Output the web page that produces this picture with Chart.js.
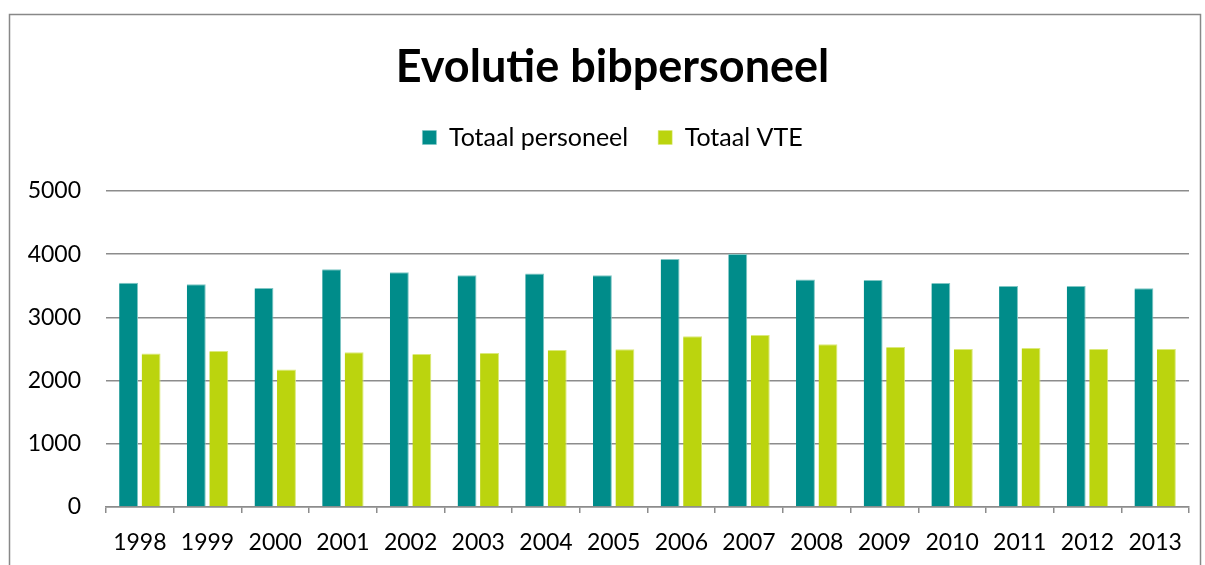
<!DOCTYPE html>
<html>
<head>
    <script src="https://cdn.jsdelivr.net/npm/chart.js@4"></script>
    <style>
        body { margin: 0; background: #fff; }
        #wrap { width: 1205px; height: 565px; }
    </style>
</head>
<body>
    <div id="wrap"><canvas id="personeelChart" width="1205" height="565"></canvas></div>

    <script>
        const years = ['1998', '1999', '2000', '2001', '2002', '2003', '2004', '2005',
                       '2006', '2007', '2008', '2009', '2010', '2011', '2012', '2013'];
        const totaalPersoneel = [3550, 3525, 3465, 3760, 3715, 3665, 3695, 3665,
                                 3925, 4005, 3600, 3590, 3545, 3495, 3495, 3460];
        const totaalVTE = [2430, 2470, 2175, 2450, 2420, 2435, 2485, 2495,
                           2700, 2720, 2575, 2530, 2500, 2515, 2500, 2500];
        const yTicks = [0, 1000, 2000, 3000, 4000, 5000];

        const gridColor = '#8c8c8c';
        const font = 'Lato';

        // frame round the whole chart, like the spreadsheet chart box
        const frame = {
            id: 'frame',
            beforeDraw(chart) {
                const ctx = chart.ctx;
                ctx.save();
                ctx.fillStyle = '#fff';
                ctx.fillRect(0, 0, chart.width, chart.height);
                ctx.strokeStyle = '#888';
                ctx.lineWidth = 1.5;
                ctx.strokeRect(9.5, 14.5, 1191, 600);
                ctx.restore();
            }
        };

        // fixed legend box height so the plot starts at the right place
        const legendHeight = {
            id: 'legendHeight',
            beforeInit(chart) {
                const fit = chart.legend.fit;
                chart.legend.fit = function () {
                    fit.bind(chart.legend)();
                    this.height = 96;
                };
            }
        };

        const ctx = document.getElementById('personeelChart').getContext('2d');
        new Chart(ctx, {
            type: 'bar',
            data: {
                labels: years,
                datasets: [{
                    label: 'Totaal personeel',
                    data: totaalPersoneel,
                    backgroundColor: '#008c8a',
                    borderColor: '#7fc6c4',
                    borderWidth: { top: 1, right: 1, left: 0, bottom: 0 },
                    barPercentage: 0.84,
                    categoryPercentage: 0.665
                }, {
                    label: 'Totaal VTE',
                    data: totaalVTE,
                    backgroundColor: '#bbd40e',
                    borderColor: '#dbe97a',
                    borderWidth: { top: 1, right: 1, left: 0, bottom: 0 },
                    barPercentage: 0.84,
                    categoryPercentage: 0.665
                }]
            },
            options: {
                responsive: false,
                animation: false,
                layout: {
                    padding: { left: 20, right: 0, top: 20, bottom: 0 }
                },
                plugins: {
                    title: {
                        display: true,
                        text: 'Evolutie bibpersoneel',
                        color: '#000',
                        font: { family: font, size: 45, weight: 'bold' },
                        padding: { top: 20, bottom: 1 }
                    },
                    legend: {
                        display: true,
                        labels: {
                            color: '#000',
                            font: { family: font, size: 25 },
                            boxWidth: 14,
                            boxHeight: 14,
                            padding: 30
                        }
                    },
                    tooltip: { enabled: false }
                },
                scales: {
                    x: {
                        grid: {
                            offset: true,
                            drawOnChartArea: false,
                            drawTicks: true,
                            tickLength: 6,
                            color: gridColor,
                            lineWidth: 1.5
                        },
                        border: { display: true, color: gridColor, width: 1.5 },
                        ticks: {
                            color: '#000',
                            font: { family: font, size: 23 },
                            padding: 16,
                            maxRotation: 0
                        },
                        afterFit(scale) { scale.height = 58; }
                    },
                    y: {
                        min: yTicks[0],
                        max: yTicks[yTicks.length - 1],
                        afterBuildTicks(scale) {
                            scale.ticks = yTicks.map(v => ({ value: v }));
                        },
                        grid: {
                            drawTicks: false,
                            color: gridColor,
                            lineWidth: 1.5
                        },
                        border: { display: false },
                        ticks: {
                            color: '#000',
                            font: { family: font, size: 23 },
                            padding: 25,
                            callback: v => String(v)
                        },
                        afterFit(scale) { scale.width = 86; }
                    },
                    // empty right axis, only keeps the plot clear of the frame
                    yRight: {
                        position: 'right',
                        display: true,
                        grid: { display: false },
                        border: { display: false },
                        ticks: { display: false },
                        afterFit(scale) { scale.width = 16; }
                    }
                }
            },
            plugins: [frame, legendHeight]
        });
    </script>
</body>
</html>
